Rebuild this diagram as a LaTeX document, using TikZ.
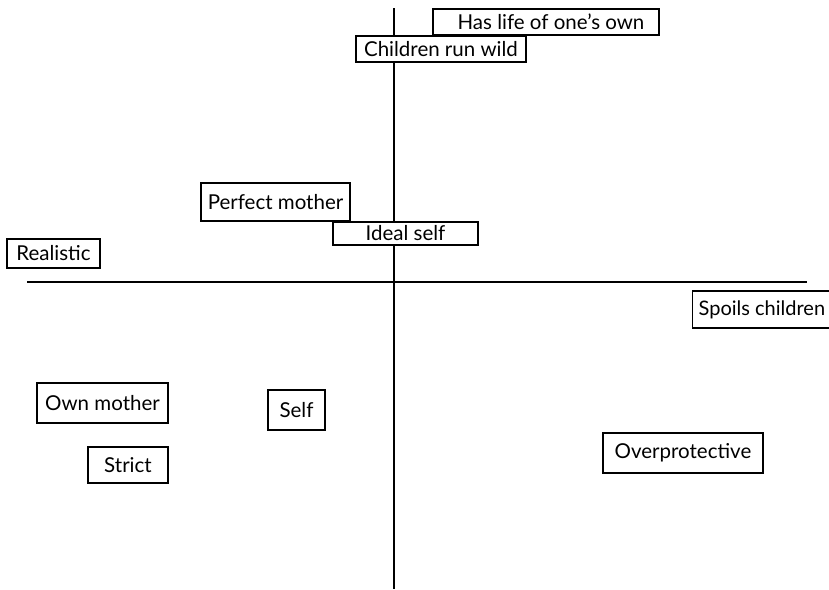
\documentclass[tikz,border=0pt]{standalone}
\usepackage{fontspec}
\setmainfont{Lato}
\usepackage{xcolor}

\begin{document}
\begin{tikzpicture}[x=1pt, y=-1pt, construct/.style={draw, line width=1.3pt, inner sep=0pt, font=\fontsize{20.5}{24}\selectfont}]
    \useasboundingbox (0,0) rectangle (829,589);
    \clip (0,0) rectangle (829,589);

    % Axes
    \coordinate (top) at (394,8);
    \coordinate (bottom) at (394,589);
    \coordinate (left) at (27,282);
    \coordinate (right) at (807,282);
    \draw[line width=1.3pt] (top) -- (bottom);
    \draw[line width=1.3pt] (left) -- (right);

    % Constructs above the horizontal axis
    \node[construct, fill=white, minimum width=226, minimum height=26] (life) at (546,22) {\hspace{10pt}Has life of one's own};
    \node[construct, fill=white, minimum width=170, minimum height=26] (wild) at (441,49) {Children run wild};
    \node[construct, fill=white, minimum width=149, minimum height=38] (perfect) at (275.5,202) {Perfect mother};
    \node[construct, fill=white, minimum width=145, minimum height=23] (ideal) at (405.5,233.5) {Ideal self};
    \node[construct, minimum width=93, minimum height=29] (realistic) at (53.5,253.5) {Realistic};

    % Constructs below the horizontal axis
    \node[construct, anchor=west, minimum height=37, inner xsep=6pt, font=\fontsize{20}{24}\selectfont] (spoils) at (692,309.5) {Spoils children\hspace{20pt}};
    \node[construct, minimum width=131, minimum height=40] (own) at (102.5,403) {Own mother};
    \node[construct, minimum width=57, minimum height=40] (self) at (296.5,410) {Self};
    \node[construct, minimum width=80, minimum height=36] (strict) at (128,465) {Strict};
    \node[construct, minimum width=160, minimum height=40] (over) at (683,453) {Overprotective};
\end{tikzpicture}
\end{document}
